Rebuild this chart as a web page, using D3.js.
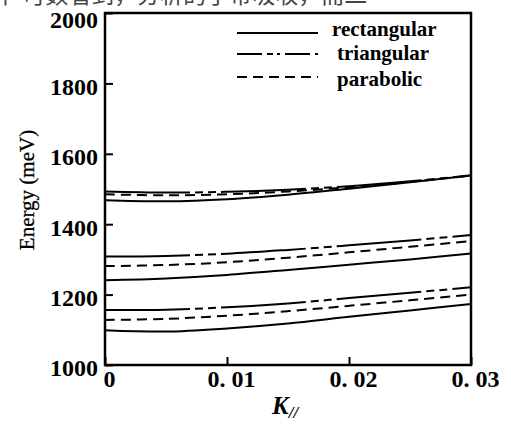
<!DOCTYPE html>
<html lang="zh">
  <head>
    <meta charset="utf-8" />
    <script src="https://cdn.jsdelivr.net/npm/d3@7/dist/d3.min.js"></script>
    <title>Energy vs K</title>
    <style>
      body { margin: 0; background: #fff; }
      .tick text { font-family: "Liberation Serif", serif; font-weight: bold; font-size: 24px; fill: #000; }
      .tick line { stroke: #000; stroke-width: 2; }
      .domain { display: none; }
      .curve { fill: none; stroke: #000; stroke-width: 2; }
    </style>
  </head>
  <body>
    <div id="container"></div>

    <script>
      // K// values
      const kValues = [0, 0.005, 0.01, 0.015, 0.02, 0.025, 0.03];

      // energies (meV), three subbands per profile
      const rect1 = [1468, 1465, 1471, 1484, 1501, 1519, 1538];
      const rect2 = [1241, 1246, 1256, 1270, 1285, 1300, 1317];
      const rect3 = [1099, 1095, 1104, 1118, 1137, 1155, 1173];

      const tri1 = [1493, 1490, 1492, 1498, 1508, 1522, 1539];
      const tri2 = [1308, 1310, 1316, 1327, 1340, 1354, 1369];
      const tri3 = [1156, 1157, 1164, 1175, 1190, 1205, 1221];

      const para1 = [1485, 1482, 1485, 1493, 1505, 1520, 1538];
      const para2 = [1281, 1284, 1292, 1305, 1320, 1336, 1352];
      const para3 = [1128, 1131, 1140, 1153, 1168, 1184, 1200];

      const yTicks = [1000, 1200, 1400, 1600, 1800, 2000];
      const xTicks = [0, 0.01, 0.02, 0.03];
      const xTickLabels = ["0", "0. 01", "0. 02", "0. 03"];
      const legendNames = ["rectangular", "triangular", "parabolic"];

      const width = 511;
      const height = 425;
      const plotLeft = 105, plotRight = 471, plotTop = 13, plotBottom = 365;

      const svg = d3.select("#container").append("svg").attr("width", width).attr("height", height);

      // cut-off line of text from the page above the figure
      svg.append("text")
        .attr("x", -6)
        .attr("y", 3)
        .attr("font-family", "Noto Sans CJK SC")
        .attr("font-size", 23)
        .attr("fill", "#444")
        .text("中 可数看到，分析的子带吸收，而二");

      const x = d3.scaleLinear().domain([0, 0.03]).range([plotLeft, plotRight]);
      const y = d3.scaleLinear().domain([1000, 2000]).range([plotBottom, plotTop]);

      // y axis, ticks pointing inward
      svg.append("g")
        .attr("transform", `translate(${plotLeft},0)`)
        .call(d3.axisLeft(y).tickValues(yTicks).tickSize(-8).tickPadding(7).tickFormat(d3.format("d")))
        .selectAll("text")
        .attr("dy", (d) => (d === 2000 ? "0.62em" : "0.45em"));

      // x axis
      const xAxis = svg.append("g")
        .attr("transform", `translate(0,${plotBottom})`)
        .call(d3.axisBottom(x).tickValues(xTicks).tickSize(-8).tickPadding(5).tickFormat((d, i) => xTickLabels[i]));
      xAxis.selectAll("text").attr("dx", 4);

      const line = d3.line()
        .x((d, i) => x(kValues[i]))
        .y((d) => y(d))
        .curve(d3.curveCatmullRom);

      const series = [
        { data: rect1, dash: null },
        { data: rect2, dash: null },
        { data: rect3, dash: null },
        { data: tri1, dash: "85,5,8,5,8,5" },
        { data: tri2, dash: "85,5,8,5,8,5" },
        { data: tri3, dash: "85,5,8,5,8,5" },
        { data: para1, dash: "10,6" },
        { data: para2, dash: "10,6" },
        { data: para3, dash: "10,6" }
      ];

      svg.append("g")
        .selectAll("path")
        .data(series)
        .join("path")
        .attr("class", "curve")
        .attr("stroke-dasharray", (d) => d.dash)
        .attr("d", (d) => line(d.data));

      // frame
      svg.append("rect")
        .attr("x", plotLeft)
        .attr("y", plotTop)
        .attr("width", plotRight - plotLeft)
        .attr("height", plotBottom - plotTop)
        .attr("fill", "none")
        .attr("stroke", "#000")
        .attr("stroke-width", 2.5);

      // legend
      const legendDash = [null, "25,5,6,4,3,5", "10,6"];
      const legendLineY = [33, 54, 77];
      const legendTextY = [36, 60, 86];
      const legendTextX = [332, 337, 337];
      const legend = svg.append("g");
      legendNames.forEach((name, i) => {
        legend.append("line")
          .attr("x1", 237).attr("x2", 318)
          .attr("y1", legendLineY[i]).attr("y2", legendLineY[i])
          .attr("stroke", "#000")
          .attr("stroke-width", 2)
          .attr("stroke-dasharray", legendDash[i]);
        legend.append("text")
          .attr("x", legendTextX[i])
          .attr("y", legendTextY[i])
          .attr("font-family", "Liberation Serif")
          .attr("font-weight", "bold")
          .attr("font-size", 21)
          .text(name);
      });

      // axis titles
      svg.append("text")
        .attr("transform", "translate(34,190) rotate(-90)")
        .attr("text-anchor", "middle")
        .attr("font-family", "Liberation Serif")
        .attr("font-size", 21)
        .attr("stroke", "#000")
        .attr("stroke-width", 0.3)
        .text("Energy (meV)");

      const kLabel = svg.append("text")
        .attr("x", 272)
        .attr("y", 414)
        .attr("font-family", "Liberation Serif")
        .attr("font-weight", "bold")
        .attr("font-style", "italic")
        .attr("font-size", 25);
      kLabel.append("tspan").text("K");
      kLabel.append("tspan").attr("dy", 4).attr("font-size", 17).text("//");
    </script>
  </body>
</html>
